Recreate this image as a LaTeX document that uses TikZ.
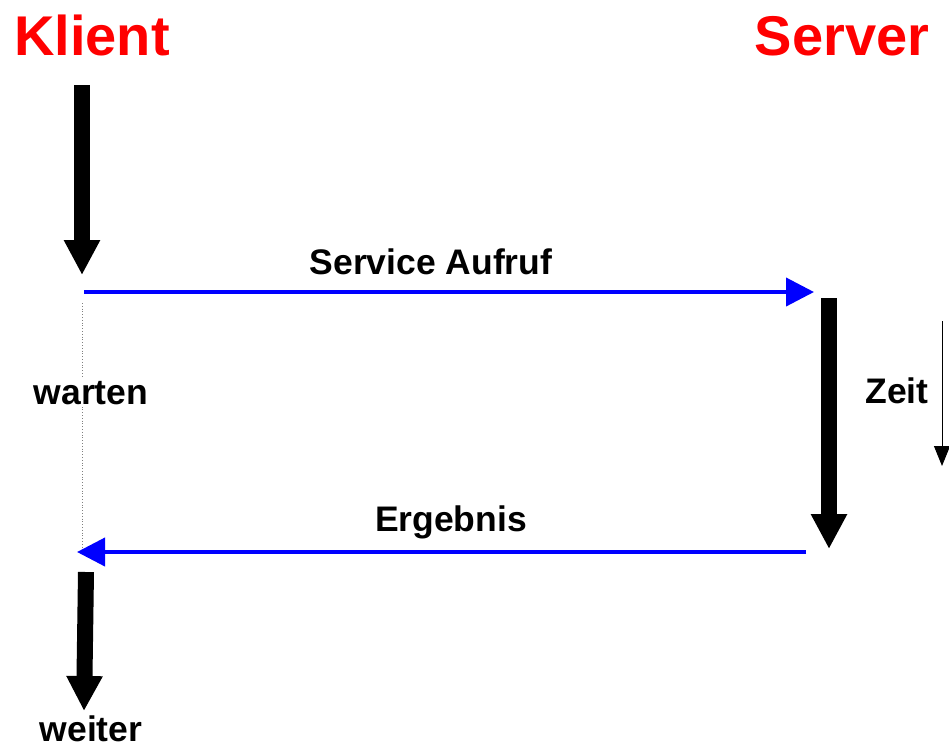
\documentclass[tikz,border=0pt]{standalone}
\usepackage{fontspec}
\setmainfont{Liberation Sans}
\usetikzlibrary{arrows.meta}

\tikzset{
  headline/.style={font=\fontsize{56}{60}\selectfont\bfseries, text=red, inner sep=0pt, anchor=base},
  msgtext/.style={font=\fontsize{35.5}{40}\selectfont\bfseries, inner sep=0pt, anchor=base},
  timebar/.style={line width=16pt, -{Triangle[width=34pt,length=35pt]}},
  msgline/.style={blue, line width=4pt, -{Triangle[width=28pt,length=28pt]}},
}

\begin{document}
\begin{tikzpicture}[x=1pt, y=-1pt]
\useasboundingbox (0,0) rectangle (949,747);

% Titles
\node[headline] (klient) at (92,55) {Klient};
\node[headline] (server) at (842,55) {Server};

% Points of the time lines
\coordinate (kTop) at (82,85);
\coordinate (kEnd) at (82,275);
\coordinate (sTop) at (829,298);
\coordinate (sEnd) at (829,549);
\coordinate (wTop) at (86,572);
\coordinate (wEnd) at (84,711);
\coordinate (callStart) at (84,292);
\coordinate (callEnd) at (814,292);
\coordinate (backStart) at (806,552);
\coordinate (backEnd) at (77,552);
\coordinate (waitTop) at (82,303);
\coordinate (waitEnd) at (82,548);
\coordinate (zTop) at (942,321);
\coordinate (zEnd) at (942,466);

% Client waits (dotted)
\draw[gray, line width=0.8pt, dotted] (waitTop) -- (waitEnd);
\node[msgtext, fill=white, inner sep=3pt] (warten) at (91,404) {warten};

% Thick time bars
\draw[timebar] (kTop) -- (kEnd);
\draw[timebar] (sTop) -- (sEnd);
\draw[timebar] (wTop) -- (wEnd);

% Messages
\draw[msgline] (callStart) -- (callEnd);
\node[msgtext] (aufruf) at (431,274) {Service Aufruf};
\draw[msgline] (backStart) -- (backEnd);
\node[msgtext] (ergebnis) at (451,531) {Ergebnis};

% Time axis
\draw[line width=1pt, -{Triangle[width=16pt,length=20pt]}] (zTop) -- (zEnd);
\node[msgtext] (zeit) at (897,403) {Zeit};

\node[msgtext] (weiter) at (91,741) {weiter};

\end{tikzpicture}
\end{document}
